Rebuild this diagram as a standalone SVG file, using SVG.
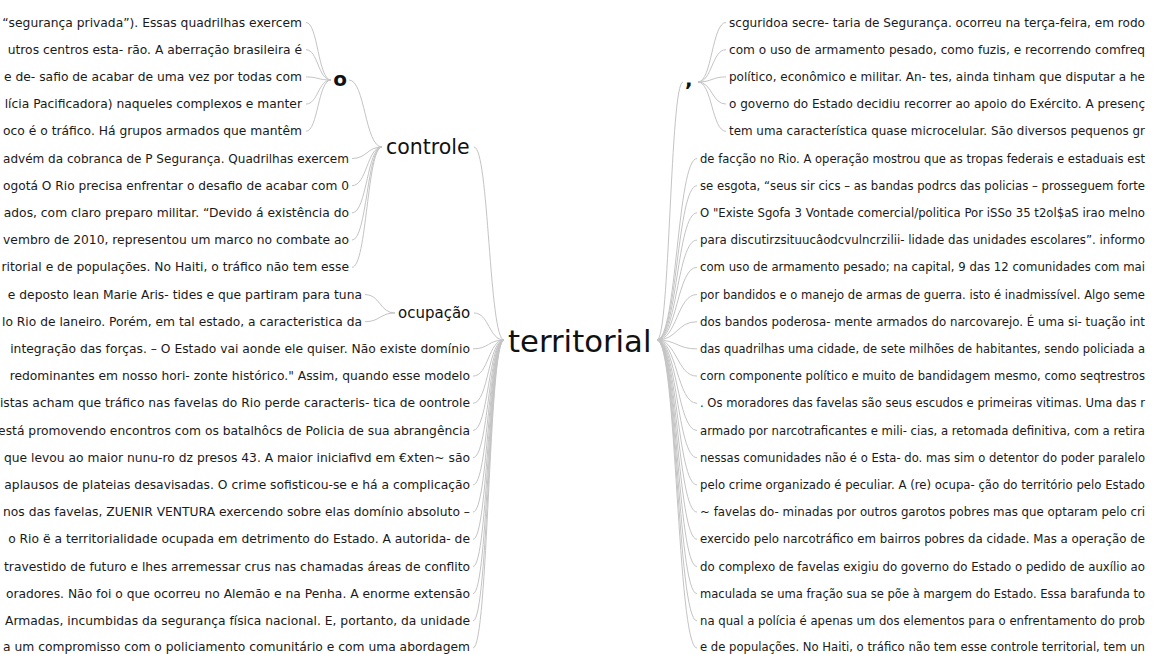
<svg xmlns="http://www.w3.org/2000/svg" width="1153" height="654" viewBox="0 0 1153 654">
<style>
.t{font-family:"DejaVu Sans","Liberation Sans",sans-serif;font-size:12.3px;fill:#1a1a1a}
.r{font-size:11.6px}
.s{font-size:11.4px}
.e{text-anchor:end}
.n{font-family:"DejaVu Sans","Liberation Sans",sans-serif;fill:#111}
.b{font-weight:bold}
#links path{fill:none;stroke:#c4c4c4;stroke-width:1}
</style>
<rect width="1153" height="654" fill="#fff"/>
<g id="links">
<path d="M306,22.5 C318,22.5 318,80 331,80"/>
<path d="M306,49.7 C318,49.7 318,80 331,80"/>
<path d="M306,76.9 C318,76.9 318,80 331,80"/>
<path d="M306,104.1 C318,104.1 318,80 331,80"/>
<path d="M306,131.3 C318,131.3 318,80 331,80"/>
<path d="M349,80 C365,80 365,147 382,147"/>
<path d="M352,158.5 C367,158.5 367,147 382,147"/>
<path d="M352,185.7 C367,185.7 367,147 382,147"/>
<path d="M352,212.9 C367,212.9 367,147 382,147"/>
<path d="M352,240.1 C367,240.1 367,147 382,147"/>
<path d="M352,267.3 C367,267.3 367,147 382,147"/>
<path d="M474,147 C489,147 489,340 504,340"/>
<path d="M365,294.5 C380,294.5 380,313 395,313"/>
<path d="M365,321.7 C380,321.7 380,313 395,313"/>
<path d="M474,313 C489,313 489,340 504,340"/>
<path d="M473,348.9 C488.5,348.9 488.5,340 504,340"/>
<path d="M473,376.1 C488.5,376.1 488.5,340 504,340"/>
<path d="M473,403.3 C488.5,403.3 488.5,340 504,340"/>
<path d="M473,430.5 C488.5,430.5 488.5,340 504,340"/>
<path d="M473,457.7 C488.5,457.7 488.5,340 504,340"/>
<path d="M473,484.9 C488.5,484.9 488.5,340 504,340"/>
<path d="M473,512.1 C488.5,512.1 488.5,340 504,340"/>
<path d="M473,539.3 C488.5,539.3 488.5,340 504,340"/>
<path d="M473,566.5 C488.5,566.5 488.5,340 504,340"/>
<path d="M473,593.7 C488.5,593.7 488.5,340 504,340"/>
<path d="M473,620.9 C488.5,620.9 488.5,340 504,340"/>
<path d="M473,648.1 C488.5,648.1 488.5,340 504,340"/>
<path d="M657,340 C670,340 670,82 683,82"/>
<path d="M698,82 C712,82 712,22.5 726,22.5"/>
<path d="M698,82 C712,82 712,49.7 726,49.7"/>
<path d="M698,82 C712,82 712,76.9 726,76.9"/>
<path d="M698,82 C712,82 712,104.1 726,104.1"/>
<path d="M698,82 C712,82 712,131.3 726,131.3"/>
<path d="M657,340 C677,340 677,158.5 697,158.5"/>
<path d="M657,340 C677,340 677,185.7 697,185.7"/>
<path d="M657,340 C677,340 677,212.9 697,212.9"/>
<path d="M657,340 C677,340 677,240.1 697,240.1"/>
<path d="M657,340 C677,340 677,267.3 697,267.3"/>
<path d="M657,340 C677,340 677,294.5 697,294.5"/>
<path d="M657,340 C677,340 677,321.7 697,321.7"/>
<path d="M657,340 C677,340 677,348.9 697,348.9"/>
<path d="M657,340 C677,340 677,376.1 697,376.1"/>
<path d="M657,340 C677,340 677,403.3 697,403.3"/>
<path d="M657,340 C677,340 677,430.5 697,430.5"/>
<path d="M657,340 C677,340 677,457.7 697,457.7"/>
<path d="M657,340 C677,340 677,484.9 697,484.9"/>
<path d="M657,340 C677,340 677,512.1 697,512.1"/>
<path d="M657,340 C677,340 677,539.3 697,539.3"/>
<path d="M657,340 C677,340 677,566.5 697,566.5"/>
<path d="M657,340 C677,340 677,593.7 697,593.7"/>
<path d="M657,340 C677,340 677,620.9 697,620.9"/>
<path d="M657,340 C677,340 677,648.1 697,648.1"/>
</g>
<g id="node-territorial"><text class="n" x="508" y="352" font-size="30.7">territorial</text></g>
<g id="node-controle"><text class="n" x="386" y="154" font-size="20.5">controle</text></g>
<g id="node-ocupacao"><text class="n" x="398" y="317.5" font-size="15">ocupação</text></g>
<g id="node-o"><text class="n b e" x="347" y="85.5" font-size="20">o</text></g>
<g id="node-comma"><text class="n b" x="685" y="86" font-size="20">,</text></g>
<g id="left-rows">
<g id="l1"><text class="t e" x="302" y="26.5">“segurança privada”). Essas quadrilhas exercem</text></g>
<g id="l2"><text class="t e" x="302" y="53.7">utros centros esta- rão. A aberração brasileira é</text></g>
<g id="l3"><text class="t e" x="302" y="80.9">e de- safio de acabar de uma vez por todas com</text></g>
<g id="l4"><text class="t e" x="302" y="108.1">lícia Pacificadora) naqueles complexos e manter</text></g>
<g id="l5"><text class="t e" x="302" y="135.3">oco é o tráfico. Há grupos armados que mantêm</text></g>
<g id="l6"><text class="t" x="3" y="162.5" textLength="346" lengthAdjust="spacingAndGlyphs">advém da cobranca de P Segurança. Quadrilhas exercem</text></g>
<g id="l7"><text class="t" x="3" y="189.7" textLength="346" lengthAdjust="spacingAndGlyphs">ogotá O Rio precisa enfrentar o desafio de acabar com 0</text></g>
<g id="l8"><text class="t e" x="349" y="216.9">ados, com claro preparo militar. “Devido á existência do</text></g>
<g id="l9"><text class="t e" x="349" y="244.1">vembro de 2010, representou um marco no combate ao</text></g>
<g id="l10"><text class="t e" x="349" y="271.3">ritorial e de populações. No Haiti, o tráfico não tem esse</text></g>
<g id="l11"><text class="t e" x="362" y="298.5">e deposto lean Marie Aris- tides e que partiram para tuna</text></g>
<g id="l12"><text class="t" x="2" y="325.7" textLength="360" lengthAdjust="spacingAndGlyphs">lo Rio de laneiro. Porém, em tal estado, a caracteristica da</text></g>
<g id="l13"><text class="t e" x="470" y="352.9">integração das forças. – O Estado vai aonde ele quiser. Não existe domínio</text></g>
<g id="l14"><text class="t e" x="470" y="380.1">redominantes em nosso hori- zonte histórico." Assim, quando esse modelo</text></g>
<g id="l15"><text class="t e" x="470" y="407.3">istas acham que tráfico nas favelas do Rio perde caracteris- tica de oontrole</text></g>
<g id="l16"><text class="t e" x="470" y="434.5">está promovendo encontros com os batalhôcs de Policia de sua abrangência</text></g>
<g id="l17"><text class="t e" x="470" y="461.7">que levou ao maior nunu-ro dz presos 43. A maior iniciafivd em €xten~ são</text></g>
<g id="l18"><text class="t e" x="470" y="488.9">aplausos de plateias desavisadas. O crime sofisticou-se e há a complicação</text></g>
<g id="l19"><text class="t e" x="470" y="516.1">nos das favelas, ZUENIR VENTURA exercendo sobre elas domínio absoluto –</text></g>
<g id="l20"><text class="t e" x="470" y="543.3">o Rio ë a territorialidade ocupada em detrimento do Estado. A autorida- de</text></g>
<g id="l21"><text class="t e" x="470" y="570.5">travestido de futuro e lhes arremessar crus nas chamadas áreas de conflito</text></g>
<g id="l22"><text class="t e" x="470" y="597.7">oradores. Não foi o que ocorreu no Alemão e na Penha. A enorme extensão</text></g>
<g id="l23"><text class="t e" x="470" y="624.9">Armadas, incumbidas da segurança física nacional. E, portanto, da unidade</text></g>
<g id="l24"><text class="t e" x="470" y="650.5">a um compromisso com o policiamento comunitário e com uma abordagem</text></g>
</g>
<g id="right-rows">
<g id="r1"><text class="t r" x="729" y="26.5" textLength="416" lengthAdjust="spacingAndGlyphs">scguridoa secre- taria de Segurança. ocorreu na terça-feira, em rodo</text></g>
<g id="r2"><text class="t r" x="729" y="53.7" textLength="416" lengthAdjust="spacingAndGlyphs">com o uso de armamento pesado, como fuzis, e recorrendo comfreq</text></g>
<g id="r3"><text class="t r" x="729" y="80.9" textLength="416" lengthAdjust="spacingAndGlyphs">político, econômico e militar. An- tes, ainda tinham que disputar a he</text></g>
<g id="r4"><text class="t r" x="729" y="108.1" textLength="416" lengthAdjust="spacingAndGlyphs">o governo do Estado decidiu recorrer ao apoio do Exército. A presenç</text></g>
<g id="r5"><text class="t r" x="729" y="135.3" textLength="416" lengthAdjust="spacingAndGlyphs">tem uma característica quase microcelular. São diversos pequenos gr</text></g>
<g id="r6"><text class="t s" x="700" y="162.5" textLength="445" lengthAdjust="spacingAndGlyphs">de facção no Rio. A operação mostrou que as tropas federais e estaduais est</text></g>
<g id="r7"><text class="t s" x="700" y="189.7" textLength="445" lengthAdjust="spacingAndGlyphs">se esgota, “seus sir cics – as bandas podrcs das policias – prosseguem forte</text></g>
<g id="r8"><text class="t s" x="700" y="216.9" textLength="445" lengthAdjust="spacingAndGlyphs">O "Existe Sgofa 3 Vontade comercial/politica Por iSSo 35 t2ol$aS irao melno</text></g>
<g id="r9"><text class="t s" x="700" y="244.1" textLength="445" lengthAdjust="spacingAndGlyphs">para discutirzsituucâodcvulncrzilii- lidade das unidades escolares”. informo</text></g>
<g id="r10"><text class="t s" x="700" y="271.3" textLength="445" lengthAdjust="spacingAndGlyphs">com uso de armamento pesado; na capital, 9 das 12 comunidades com mai</text></g>
<g id="r11"><text class="t s" x="700" y="298.5" textLength="445" lengthAdjust="spacingAndGlyphs">por bandidos e o manejo de armas de guerra. isto é inadmissível. Algo seme</text></g>
<g id="r12"><text class="t s" x="700" y="325.7" textLength="445" lengthAdjust="spacingAndGlyphs">dos bandos poderosa- mente armados do narcovarejo. É uma si- tuação int</text></g>
<g id="r13"><text class="t s" x="700" y="352.9" textLength="445" lengthAdjust="spacingAndGlyphs">das quadrilhas uma cidade, de sete milhões de habitantes, sendo policiada a</text></g>
<g id="r14"><text class="t s" x="700" y="380.1" textLength="445" lengthAdjust="spacingAndGlyphs">corn componente político e muito de bandidagem mesmo, como seqtrestros</text></g>
<g id="r15"><text class="t s" x="700" y="407.3" textLength="445" lengthAdjust="spacingAndGlyphs">. Os moradores das favelas são seus escudos e primeiras vitimas. Uma das r</text></g>
<g id="r16"><text class="t s" x="700" y="434.5" textLength="445" lengthAdjust="spacingAndGlyphs">armado por narcotraficantes e mili- cias, a retomada definitiva, com a retira</text></g>
<g id="r17"><text class="t s" x="700" y="461.7" textLength="445" lengthAdjust="spacingAndGlyphs">nessas comunidades não é o Esta- do. mas sim o detentor do poder paralelo</text></g>
<g id="r18"><text class="t s" x="700" y="488.9" textLength="445" lengthAdjust="spacingAndGlyphs">pelo crime organizado é peculiar. A (re) ocupa- ção do território pelo Estado</text></g>
<g id="r19"><text class="t s" x="700" y="516.1" textLength="445" lengthAdjust="spacingAndGlyphs">~ favelas do- minadas por outros garotos pobres mas que optaram pelo cri</text></g>
<g id="r20"><text class="t s" x="700" y="543.3" textLength="445" lengthAdjust="spacingAndGlyphs">exercido pelo narcotráfico em bairros pobres da cidade. Mas a operação de</text></g>
<g id="r21"><text class="t s" x="700" y="570.5" textLength="445" lengthAdjust="spacingAndGlyphs">do complexo de favelas exigiu do governo do Estado o pedido de auxílio ao</text></g>
<g id="r22"><text class="t s" x="700" y="597.7" textLength="445" lengthAdjust="spacingAndGlyphs">maculada se uma fração sua se põe à margem do Estado. Essa barafunda to</text></g>
<g id="r23"><text class="t s" x="700" y="624.9" textLength="445" lengthAdjust="spacingAndGlyphs">na qual a polícia é apenas um dos elementos para o enfrentamento do prob</text></g>
<g id="r24"><text class="t s" x="700" y="650.5" textLength="445" lengthAdjust="spacingAndGlyphs">e de populações. No Haiti, o tráfico não tem esse controle territorial, tem un</text></g>
</g>
</svg>
